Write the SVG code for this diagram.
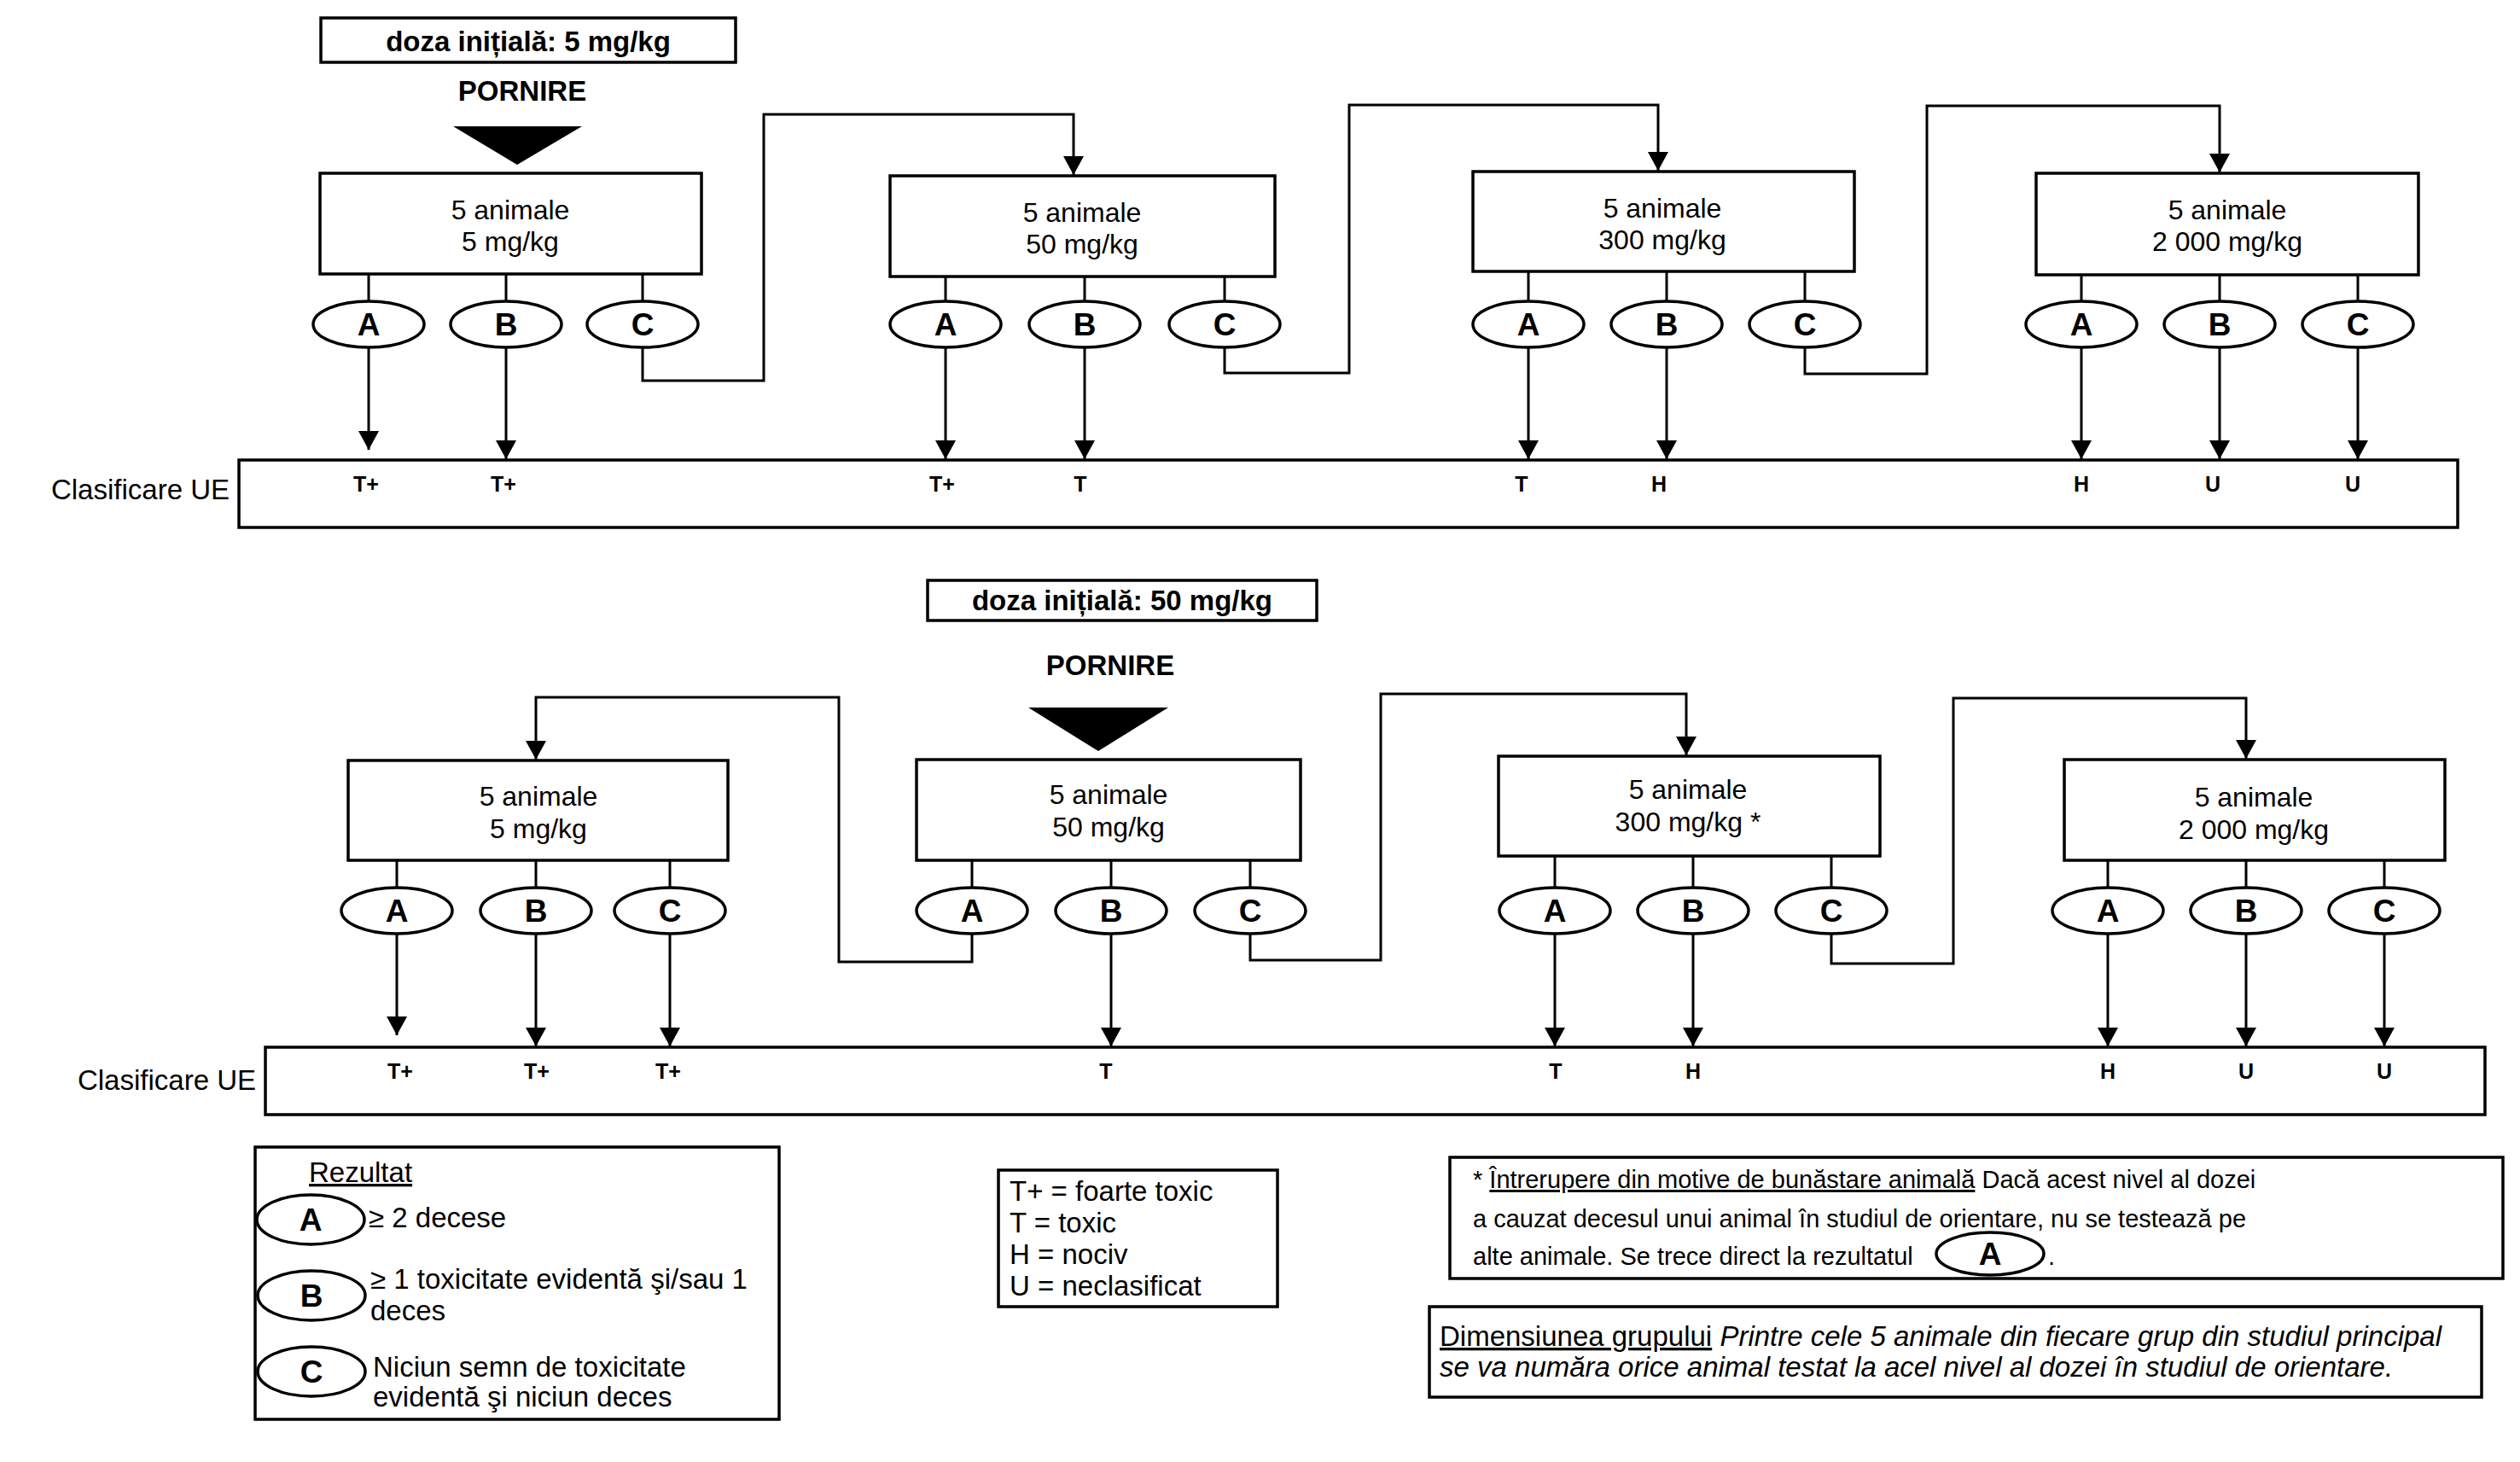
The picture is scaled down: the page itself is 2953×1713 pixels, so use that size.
<svg xmlns="http://www.w3.org/2000/svg" width="2953" height="1713" viewBox="0 0 2953 1713">
<defs>
<marker id="ah" markerUnits="userSpaceOnUse" markerWidth="24" markerHeight="24" refX="22" refY="12" orient="auto"><path d="M0,0 L22,12 L0,24 z" fill="#000"/></marker>
<style>
.box{fill:#fff;stroke:#000;stroke-width:3.5}
.ell{fill:#fff;stroke:#000;stroke-width:3.5}
.ln{fill:none;stroke:#000;stroke-width:3}
.arr{fill:none;stroke:#000;stroke-width:3;marker-end:url(#ah)}
text{font-family:"Liberation Sans",Arial,sans-serif;fill:#000}
.t{font-size:32px;text-anchor:middle}
.h{font-size:33px;font-weight:bold;text-anchor:middle}
.lt{font-size:37px;font-weight:bold;text-anchor:middle}
.cl{font-size:25px;font-weight:bold;text-anchor:middle}
.lg{font-size:33px}
.fn{font-size:29px}
.u{text-decoration:underline}
.i{font-style:italic}
</style>
</defs>
<rect width="2953" height="1713" fill="#fff"/>

<!-- TOP SECTION -->
<g id="start1">
<rect class="box" x="376" y="21" width="486" height="52"/>
<text class="h" x="619" y="60">doza inițială: 5 mg/kg</text>
<text class="h" x="612" y="118">PORNIRE</text>
<polygon points="531,148 682,148 606,193" fill="#000"/>
</g>
<g id="top-box1"><rect class="box" x="375" y="203" width="447" height="118"/><text class="t" x="598" y="257">5 animale</text><text class="t" x="598" y="294">5 mg/kg</text></g>
<g id="top-box2"><rect class="box" x="1043" y="206" width="451" height="118"/><text class="t" x="1268" y="260">5 animale</text><text class="t" x="1268" y="297">50 mg/kg</text></g>
<g id="top-box3"><rect class="box" x="1726" y="201" width="447" height="117"/><text class="t" x="1948" y="255">5 animale</text><text class="t" x="1948" y="292">300 mg/kg</text></g>
<g id="top-box4"><rect class="box" x="2386" y="203" width="448" height="119"/><text class="t" x="2610" y="257">5 animale</text><text class="t" x="2610" y="294">2 000 mg/kg</text></g>

<g id="top-ellipses">
<g id="t1A"><ellipse class="ell" cx="432" cy="380" rx="65" ry="27"/><text class="lt" x="432" y="393">A</text></g>
<g id="t1B"><ellipse class="ell" cx="593" cy="380" rx="65" ry="27"/><text class="lt" x="593" y="393">B</text></g>
<g id="t1C"><ellipse class="ell" cx="753" cy="380" rx="65" ry="27"/><text class="lt" x="753" y="393">C</text></g>
<g id="t2A"><ellipse class="ell" cx="1108" cy="380" rx="65" ry="27"/><text class="lt" x="1108" y="393">A</text></g>
<g id="t2B"><ellipse class="ell" cx="1271" cy="380" rx="65" ry="27"/><text class="lt" x="1271" y="393">B</text></g>
<g id="t2C"><ellipse class="ell" cx="1435" cy="380" rx="65" ry="27"/><text class="lt" x="1435" y="393">C</text></g>
<g id="t3A"><ellipse class="ell" cx="1791" cy="380" rx="65" ry="27"/><text class="lt" x="1791" y="393">A</text></g>
<g id="t3B"><ellipse class="ell" cx="1953" cy="380" rx="65" ry="27"/><text class="lt" x="1953" y="393">B</text></g>
<g id="t3C"><ellipse class="ell" cx="2115" cy="380" rx="65" ry="27"/><text class="lt" x="2115" y="393">C</text></g>
<g id="t4A"><ellipse class="ell" cx="2439" cy="380" rx="65" ry="27"/><text class="lt" x="2439" y="393">A</text></g>
<g id="t4B"><ellipse class="ell" cx="2601" cy="380" rx="65" ry="27"/><text class="lt" x="2601" y="393">B</text></g>
<g id="t4C"><ellipse class="ell" cx="2763" cy="380" rx="65" ry="27"/><text class="lt" x="2763" y="393">C</text></g>
</g>

<g id="top-class">
<text class="lg" x="269" y="585" text-anchor="end">Clasificare UE</text>
<rect class="box" x="280" y="539" width="2600" height="79"/>
<text class="cl" x="429" y="576">T+</text>
<text class="cl" x="590" y="576">T+</text>
<text class="cl" x="1104" y="576">T+</text>
<text class="cl" x="1266" y="576">T</text>
<text class="cl" x="1783" y="576">T</text>
<text class="cl" x="1944" y="576">H</text>
<text class="cl" x="2439" y="576">H</text>
<text class="cl" x="2593" y="576">U</text>
<text class="cl" x="2757" y="576">U</text>
</g>

<!-- BOTTOM SECTION -->
<g id="start2">
<rect class="box" x="1087" y="680" width="456" height="47"/>
<text class="h" x="1315" y="715">doza inițială: 50 mg/kg</text>
<text class="h" x="1301" y="791">PORNIRE</text>
<polygon points="1205,829 1369,829 1287,880" fill="#000"/>
</g>
<g id="bot-box1"><rect class="box" x="408" y="891" width="445" height="117"/><text class="t" x="631" y="944">5 animale</text><text class="t" x="631" y="982">5 mg/kg</text></g>
<g id="bot-box2"><rect class="box" x="1074" y="890" width="450" height="118"/><text class="t" x="1299" y="942">5 animale</text><text class="t" x="1299" y="980">50 mg/kg</text></g>
<g id="bot-box3"><rect class="box" x="1756" y="886" width="447" height="117"/><text class="t" x="1978" y="936">5 animale</text><text class="t" x="1978" y="974">300 mg/kg *</text></g>
<g id="bot-box4"><rect class="box" x="2419" y="890" width="446" height="118"/><text class="t" x="2641" y="945">5 animale</text><text class="t" x="2641" y="983">2 000 mg/kg</text></g>

<g id="bot-ellipses">
<g id="b1A"><ellipse class="ell" cx="465" cy="1067" rx="65" ry="27"/><text class="lt" x="465" y="1080">A</text></g>
<g id="b1B"><ellipse class="ell" cx="628" cy="1067" rx="65" ry="27"/><text class="lt" x="628" y="1080">B</text></g>
<g id="b1C"><ellipse class="ell" cx="785" cy="1067" rx="65" ry="27"/><text class="lt" x="785" y="1080">C</text></g>
<g id="b2A"><ellipse class="ell" cx="1139" cy="1067" rx="65" ry="27"/><text class="lt" x="1139" y="1080">A</text></g>
<g id="b2B"><ellipse class="ell" cx="1302" cy="1067" rx="65" ry="27"/><text class="lt" x="1302" y="1080">B</text></g>
<g id="b2C"><ellipse class="ell" cx="1465" cy="1067" rx="65" ry="27"/><text class="lt" x="1465" y="1080">C</text></g>
<g id="b3A"><ellipse class="ell" cx="1822" cy="1067" rx="65" ry="27"/><text class="lt" x="1822" y="1080">A</text></g>
<g id="b3B"><ellipse class="ell" cx="1984" cy="1067" rx="65" ry="27"/><text class="lt" x="1984" y="1080">B</text></g>
<g id="b3C"><ellipse class="ell" cx="2146" cy="1067" rx="65" ry="27"/><text class="lt" x="2146" y="1080">C</text></g>
<g id="b4A"><ellipse class="ell" cx="2470" cy="1067" rx="65" ry="27"/><text class="lt" x="2470" y="1080">A</text></g>
<g id="b4B"><ellipse class="ell" cx="2632" cy="1067" rx="65" ry="27"/><text class="lt" x="2632" y="1080">B</text></g>
<g id="b4C"><ellipse class="ell" cx="2794" cy="1067" rx="65" ry="27"/><text class="lt" x="2794" y="1080">C</text></g>
</g>

<g id="bot-class">
<text class="lg" x="300" y="1277" text-anchor="end">Clasificare UE</text>
<rect class="box" x="311" y="1227" width="2601" height="79"/>
<text class="cl" x="469" y="1264">T+</text>
<text class="cl" x="629" y="1264">T+</text>
<text class="cl" x="783" y="1264">T+</text>
<text class="cl" x="1296" y="1264">T</text>
<text class="cl" x="1823" y="1264">T</text>
<text class="cl" x="1984" y="1264">H</text>
<text class="cl" x="2470" y="1264">H</text>
<text class="cl" x="2632" y="1264">U</text>
<text class="cl" x="2794" y="1264">U</text>
</g>

<!-- CONNECTORS -->
<g id="connectors">
<path class="ln" d="M432,321V353M593,321V353M753,321V353M1108,324V353M1271,324V353M1435,324V353M1791,318V353M1953,318V353M2115,318V353M2439,322V353M2601,322V353M2763,322V353"/>
<path class="arr" d="M432,407V527"/>
<path class="arr" d="M593,407V538"/>
<path class="arr" d="M1108,407V538"/>
<path class="arr" d="M1271,407V538"/>
<path class="arr" d="M1791,407V538"/>
<path class="arr" d="M1953,407V538"/>
<path class="arr" d="M2439,407V538"/>
<path class="arr" d="M2601,407V538"/>
<path class="arr" d="M2763,407V538"/>
<path class="arr" d="M753,407V446H895V134H1258V205"/>
<path class="arr" d="M1435,407V437H1581V123H1943V200"/>
<path class="arr" d="M2115,407V438H2258V124H2601V202"/>

<path class="ln" d="M465,1008V1040M628,1008V1040M785,1008V1040M1139,1008V1040M1302,1008V1040M1465,1008V1040M1822,1003V1040M1984,1003V1040M2146,1003V1040M2470,1008V1040M2632,1008V1040M2794,1008V1040"/>
<path class="arr" d="M465,1094V1213"/>
<path class="arr" d="M628,1094V1226"/>
<path class="arr" d="M785,1094V1226"/>
<path class="arr" d="M1302,1094V1226"/>
<path class="arr" d="M1822,1094V1226"/>
<path class="arr" d="M1984,1094V1226"/>
<path class="arr" d="M2470,1094V1226"/>
<path class="arr" d="M2632,1094V1226"/>
<path class="arr" d="M2794,1094V1226"/>
<path class="arr" d="M1139,1094V1127H983V817H628V890"/>
<path class="arr" d="M1465,1094V1125H1618V813H1976V885"/>
<path class="arr" d="M2146,1094V1129H2289V818H2632V889"/>
</g>

<!-- LEGENDS -->
<g id="legend-result">
<rect class="box" x="299" y="1344" width="614" height="319"/>
<text class="lg u" x="362" y="1385">Rezultat</text>
<ellipse class="ell" cx="364" cy="1429" rx="63" ry="29"/><text class="lt" x="364" y="1442">A</text>
<ellipse class="ell" cx="365" cy="1518" rx="63" ry="29"/><text class="lt" x="365" y="1531">B</text>
<ellipse class="ell" cx="365" cy="1607" rx="63" ry="29"/><text class="lt" x="365" y="1620">C</text>
<text class="lg" x="432" y="1438">≥ 2 decese</text>
<text class="lg" x="434" y="1510">≥ 1 toxicitate evidentă şi/sau 1</text>
<text class="lg" x="434" y="1547">deces</text>
<text class="lg" x="437" y="1613">Niciun semn de toxicitate</text>
<text class="lg" x="437" y="1648">evidentă şi niciun deces</text>
</g>

<g id="legend-class">
<rect class="box" x="1170" y="1371" width="327" height="160"/>
<text class="lg" x="1183" y="1407">T+ = foarte toxic</text>
<text class="lg" x="1183" y="1444">T = toxic</text>
<text class="lg" x="1183" y="1481">H = nociv</text>
<text class="lg" x="1183" y="1518">U = neclasificat</text>
</g>

<g id="footnote">
<rect class="box" x="1699" y="1356" width="1234" height="142"/>
<text class="fn" x="1726" y="1392">* <tspan class="u">Întrerupere din motive de bunăstare animală</tspan> Dacă acest nivel al dozei</text>
<text class="fn" x="1726" y="1438">a cauzat decesul unui animal în studiul de orientare, nu se testează pe</text>
<text class="fn" x="1726" y="1482">alte animale. Se trece direct la rezultatul</text>
<ellipse class="ell" cx="2332" cy="1469" rx="63" ry="25"/><text class="lt" x="2332" y="1482">A</text>
<text class="fn" x="2400" y="1482">.</text>
</g>

<g id="group-size">
<rect class="box" x="1675" y="1531" width="1233" height="106"/>
<text class="lg" x="1687" y="1577"><tspan class="u">Dimensiunea grupului</tspan> <tspan class="i">Printre cele 5 animale din fiecare grup din studiul principal</tspan></text>
<text class="lg i" x="1687" y="1613">se va număra orice animal testat la acel nivel al dozei în studiul de orientare.</text>
</g>
</svg>
